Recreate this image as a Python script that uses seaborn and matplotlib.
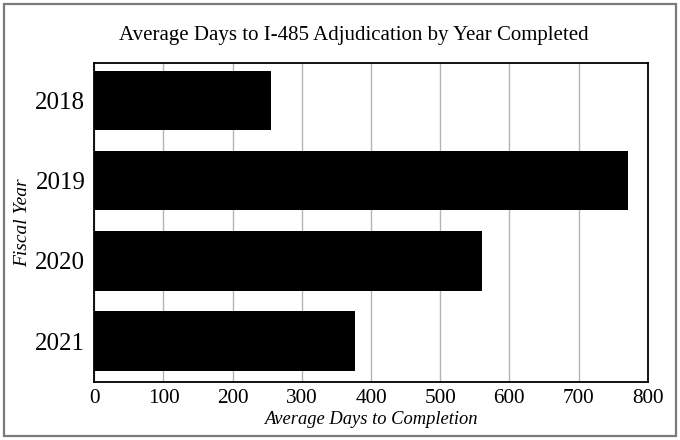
import matplotlib
matplotlib.use("Agg")
import matplotlib.pyplot as plt
import seaborn as sns
import pandas as pd
from matplotlib.patches import Rectangle

years = ["2018", "2019", "2020", "2021"]
avg_days = [256, 772, 560, 377]
x_ticks = [0, 100, 200, 300, 400, 500, 600, 700, 800]

sns.set_theme(style="white", rc={"text.color": "black", "axes.labelcolor": "black",
                                 "xtick.color": "black", "ytick.color": "black"})
plt.rcParams['font.family'] = ['Liberation Serif', 'DejaVu Serif']

df = pd.DataFrame({"year": years, "days": avg_days})

fig = plt.figure(figsize=(6.8, 4.4), dpi=100)
ax = fig.add_axes([94.3/680, 1 - 381.7/440, (647.7-94.3)/680, (381.7-63.3)/440])

sns.barplot(data=df, x="days", y="year", orient="h", color="black",
            saturation=1, width=0.74, linewidth=0, ax=ax, zorder=3)

ax.set_xlim(0, 800)
ax.set_ylim(3.508, -0.467)
ax.set_xticks(x_ticks)
ax.set_xticklabels([str(t) for t in x_ticks], fontsize=15.3)
ax.tick_params(axis="y", labelsize=18, length=0, pad=6.5)
ax.tick_params(axis="x", length=0, pad=5.5)
ax.xaxis.grid(True, color="#b4b4b4", linewidth=1.0, zorder=0)
ax.yaxis.grid(False)
ax.set_axisbelow(True)
for s in ax.spines.values():
    s.set_visible(True)
    s.set_color("black")
    s.set_linewidth(1.3)

ax.set_xlabel("Average Days to Completion", fontsize=13.3, style="italic", labelpad=2)
ax.set_ylabel("Fiscal Year", fontsize=14, style="italic", labelpad=3)
fig.text(354/680, 1 - 40/440, "Average Days to I-485 Adjudication by Year Completed",
         ha="center", va="baseline", fontsize=15, color="black")

fig.patches.append(Rectangle((3.5/680, 1 - 436/440), (675.7-3.5)/680, (436-4)/440,
                             transform=fig.transFigure, fill=False,
                             edgecolor="#7a7a7a", linewidth=1.6))

fig.savefig("out.png", dpi=100)
